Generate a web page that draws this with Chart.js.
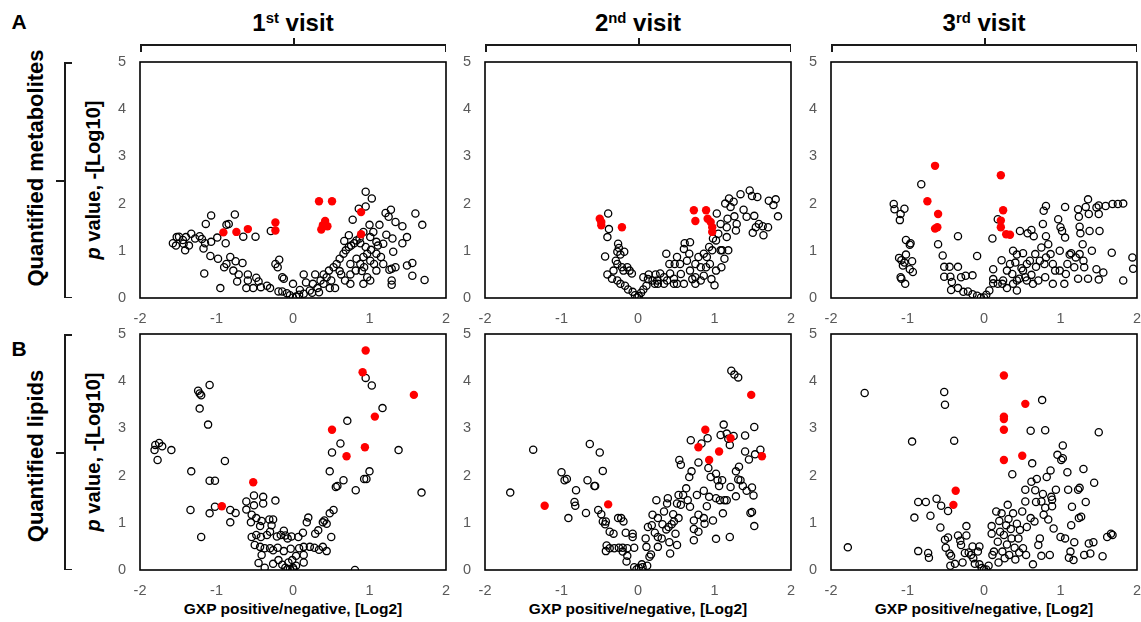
<!DOCTYPE html>
<html>
<head>
<meta charset="utf-8">
<script src="https://cdn.jsdelivr.net/npm/chart.js@4"></script>
<style>
  html, body { margin: 0; padding: 0; background: #fff; overflow: hidden; }
  #fig { position: relative; width: 1141px; height: 622px; font-family: Arial, "Liberation Sans", sans-serif; color: #000; }
  #fig canvas { position: absolute; }
  .txt { position: absolute; font-weight: bold; white-space: nowrap; text-align: center; }
  .rot { position: absolute; font-weight: bold; white-space: nowrap; text-align: center; transform: rotate(-90deg); }
  .ln { position: absolute; background: #1a1a1a; }
  sup { font-size: 62%; vertical-align: 0; position: relative; top: -0.55em; }
</style>
</head>
<body>
<div id="fig"></div>
<script>
// axis ticks
const xTickValues = [-2, -1, 0, 1, 2];
const yTickValues = [0, 1, 2, 3, 4, 5];

const visitTitles = ['1<sup>st</sup> visit', '2<sup>nd</sup> visit', '3<sup>rd</sup> visit'];
const rowTitles = ['Quantified metabolites', 'Quantified lipids'];
const rowLetters = ['A', 'B'];

// metabolites, 1st visit
const metRed1 = [[0.34,2.05],[0.51,2.05],[0.89,1.82],[0.89,1.35],[0.42,1.63],[0.39,1.54],[0.45,1.52],[0.37,1.45],
  [-0.23,1.6],[-0.23,1.43],[-0.59,1.46],[-0.74,1.4],[-0.91,1.39]];
const metBlack1 = [[-1.57,1.16],[-1.52,1.29],[-1.49,1.3],[-1.44,1.23],[-1.4,1.29],[-1.33,1.36],[-1.43,1.15],[-1.53,1.11],
  [-1.41,1.01],[-1.36,1.11],[-1.28,1.26],[-1.22,1.31],[-1.19,1.25],[-1.17,1.05],[-1.15,1.16],[-1.07,1.19],[-1.14,1.57],
  [-1.07,1.75],[-0.99,1.28],[-0.87,1.55],[-0.84,1.57],[-0.76,1.77],[-0.88,1.16],[-0.65,1.3],[-0.49,1.3],[-0.29,1.42],
  [-1.08,0.89],[-1.16,0.52],[-0.95,0.21],[-0.98,0.83],[-0.87,0.72],[-0.9,0.65],[-0.82,0.87],[-0.75,0.78],[-0.66,0.74],
  [-0.78,0.58],[-0.71,0.5],[-0.59,0.5],[-0.73,0.35],[-0.59,0.37],[-0.48,0.43],[-0.45,0.35],[-0.61,0.21],[-0.52,0.21],
  [-0.42,0.23],[-0.34,0.26],[-0.3,0.21],[-0.23,0.72],[-0.18,0.81],[-0.2,0.65],[-0.14,0.44],[-0.12,0.41],[-0.19,0.14],
  [-0.14,0.14],[-0.08,0.1],[-0.04,0.06],[0,0.01],[0.04,0.03],[0.08,0.07],[0.14,0.09],[0,0.3],[0.14,0.5],[0.17,0.33],
  [0.22,0.16],[0.26,0.3],[0.29,0.5],[0.32,0.21],[0.36,0.37],[0.4,0.5],[0.44,0.44],[0.47,0.58],[0.5,0.37],[0.53,0.65],
  [0.57,0.72],[0.61,0.57],[0.55,0.21],[0.61,0.83],[0.66,0.94],[0.69,1.01],[0.73,1.08],[0.76,1.11],[0.8,1.16],[0.83,1.22],
  [0.87,1.26],[0.88,1.16],[0.68,0.37],[0.75,0.5],[0.82,0.58],[0.88,0.72],[0.92,0.87],[0.97,0.94],[1.01,0.79],[1.09,0.94],
  [1.15,0.87],[1.09,1.19],[1.11,1.11],[1.18,1.15],[1.3,1.26],[1.31,0.98],[1.29,0.62],[0.9,0.57],[0.97,0.44],[1.01,0.37],
  [1.09,0.58],[1.18,0.72],[1.26,0.6],[1.29,0.37],[1.29,0.28],[1.34,0.65],[1.49,0.69],[1.56,0.74],[1.56,0.47],[1.72,0.38],
  [1.43,1.16],[1.49,1.29],[1.43,1.52],[1.34,1.61],[1.25,1.72],[1.21,1.8],[1.28,1.87],[1.13,1.55],[1.0,1.55],[0.95,1.94],
  [1.03,2.11],[0.95,2.25],[0.86,1.89],[0.78,1.66],[0.73,1.33],[0.67,1.21],[1.6,1.79],[1.69,1.55],[1.05,1.4],[1.22,1.34],
  [0.92,1.4],[1.01,1.29],[0.95,1.08],[1.02,1.02],[1.06,0.72],[0.93,0.65],[0.83,0.83],[0.75,0.72],[0.63,0.5],[0.92,0.3],
  [0.75,0.3],[0.48,0.21],[0.4,0.3],[0.34,0.12],[0.25,0.11],[0.09,0.17]];

// metabolites, 2nd visit
const metRed2 = [[-0.5,1.68],[-0.48,1.61],[-0.48,1.54],[-0.21,1.5],[0.73,1.86],[0.75,1.63],[0.89,1.86],[0.91,1.68],
  [0.95,1.61],[0.97,1.5],[0.97,1.4]];
const metBlack2 = [[-0.39,1.79],[-0.38,1.46],[-0.4,1.29],[-0.43,0.88],[-0.26,1.15],[-0.25,1.06],[-0.27,0.98],[-0.23,0.92],
  [-0.18,0.98],[-0.29,0.79],[-0.27,0.72],[-0.21,0.65],[-0.19,0.58],[-0.14,0.65],[-0.11,0.58],[-0.08,0.52],[-0.32,0.58],
  [-0.4,0.5],[-0.34,0.41],[-0.27,0.37],[-0.23,0.3],[-0.17,0.26],[-0.13,0.18],[-0.07,0.13],[-0.04,0.06],[-0.01,0.01],
  [0.01,0.04],[0.04,0.11],[0.07,0.18],[0.11,0.26],[0.13,0.4],[0.14,0.5],[0.19,0.37],[0.23,0.5],[0.26,0.3],[0.29,0.52],
  [0.34,0.44],[0.37,0.94],[0.38,0.37],[0.42,0.52],[0.47,0.41],[0.48,0.72],[0.51,0.3],[0.55,0.72],[0.56,0.51],[0.6,0.3],
  [0.61,1.16],[0.68,1.18],[0.6,1.04],[0.67,0.94],[0.64,0.79],[0.68,0.58],[0.71,0.4],[0.75,0.72],[0.79,0.87],[0.82,0.65],
  [0.86,0.94],[0.86,0.47],[0.9,0.87],[0.93,1.08],[0.94,0.72],[0.96,0.4],[1.0,0.27],[0.97,1.01],[1.02,1.22],[1.05,1.36],
  [1.03,1.79],[1.08,1.57],[1.1,1.01],[1.09,0.65],[1.18,1.01],[1.16,1.29],[1.16,1.5],[1.17,1.68],[1.21,1.93],[1.19,2.11],
  [1.25,2.04],[1.29,1.57],[1.34,2.2],[1.38,1.87],[1.42,1.72],[1.46,2.28],[1.49,2.16],[1.56,2.14],[1.52,1.74],[1.54,1.5],
  [1.5,1.38],[1.58,1.57],[1.63,1.52],[1.64,1.33],[1.7,1.5],[1.71,2.06],[1.77,1.97],[1.8,2.09],[1.83,1.73],[1.26,1.73],
  [1.28,1.43],[1.14,2.0],[0.98,1.26],[0.51,0.87],[0.41,0.72],[0.75,0.44],[0.25,0.37],[0.07,0.44],[0.22,0.3],[0.34,0.3],
  [0.47,0.3],[0.75,0.3],[0.82,0.37],[1.08,1.01],[1.13,0.83],[0.89,0.65],[1.02,0.58]];

// metabolites, 3rd visit
const metRed3 = [[-0.64,2.8],[0.22,2.6],[-0.74,2.05],[-0.6,1.78],[-0.64,1.47],[-0.61,1.5],[0.25,1.86],[0.22,1.64],
  [0.22,1.5],[0.29,1.35],[0.34,1.34]];
const metBlack3 = [[-1.18,1.99],[-1.17,1.88],[-1.09,1.78],[-1.1,1.65],[-1.04,1.89],[-1.02,1.23],[-0.96,1.16],[-0.97,1.13],
  [-1.11,0.85],[-1.08,0.8],[-1.02,0.92],[-1.04,0.75],[-0.94,0.78],[-1.06,0.69],[-0.97,0.61],[-0.93,0.55],[-1.09,0.44],
  [-1.08,0.41],[-1.03,0.3],[-0.82,2.41],[-0.6,1.14],[-0.54,0.9],[-0.52,0.66],[-0.45,0.66],[-0.34,0.66],[-0.34,1.31],
  [-0.52,0.45],[-0.44,0.45],[-0.3,0.44],[-0.24,0.47],[-0.15,0.48],[-0.42,0.34],[-0.43,0.17],[-0.34,0.21],[-0.27,0.13],
  [-0.21,0.14],[-0.15,0.08],[-0.09,0.05],[-0.04,0.01],[0,0.01],[0.03,0.07],[0.07,0.16],[0.12,0.31],[0.18,0.3],[0.12,0.61],
  [0.11,1.26],[0.18,1.67],[0.23,0.8],[0.25,0.37],[0.3,0.58],[0.34,0.72],[0.37,0.51],[0.38,0.3],[0.41,0.75],[0.43,0.92],
  [0.46,0.41],[0.47,1.42],[0.49,0.63],[0.51,0.95],[0.54,0.44],[0.56,0.72],[0.57,1.37],[0.6,0.79],[0.62,1.44],[0.62,0.49],
  [0.65,1.31],[0.67,0.93],[0.68,0.66],[0.71,0.37],[0.75,1.07],[0.77,1.57],[0.78,1.85],[0.81,1.95],[0.79,0.72],[0.81,1.31],
  [0.84,1.14],[0.87,0.93],[0.9,0.3],[0.93,0.58],[0.97,1.67],[1.0,1.5],[1.02,1.42],[0.99,1.0],[1.06,1.93],[1.06,1.28],
  [1.09,0.72],[1.12,0.92],[1.14,0.95],[1.18,0.65],[1.2,0.86],[1.23,1.88],[1.24,1.72],[1.25,1.51],[1.26,1.37],[1.29,1.14],
  [1.25,0.93],[1.3,0.79],[1.31,0.65],[1.33,1.93],[1.36,2.09],[1.37,1.78],[1.38,1.42],[1.41,1.0],[1.47,1.92],[1.5,1.78],
  [1.51,1.42],[1.5,1.96],[1.59,1.95],[1.68,1.99],[1.75,1.99],[1.82,2.0],[1.67,0.96],[1.47,0.61],[1.56,0.54],[1.5,0.39],
  [1.36,0.41],[1.23,0.41],[1.07,0.51],[1.82,0.37],[1.94,0.86],[1.95,0.62],[-0.09,0.89],[0.12,0.4],[0.24,0.3],[0.43,0.37],
  [0.56,0.37],[0.64,0.3],[0.8,0.44],[0.43,0.16],[0.3,0.21],[0.9,0.72],[0.99,0.58],[0.81,0.86],[0.73,0.79],[0.51,0.58],
  [0.38,1.0],[1.05,0.3]];

// lipids, 1st visit
const lipRed1 = [[0.95,4.65],[0.91,4.19],[1.58,3.71],[1.07,3.25],[0.51,2.97],[0.94,2.6],[0.7,2.41],[-0.52,1.86],[-0.93,1.35]];
const lipBlack1 = [[-1.24,3.8],[-1.22,3.74],[-1.2,3.7],[-1.09,3.92],[-1.22,3.42],[-1.11,3.08],[-1.8,2.65],[-1.75,2.69],
  [-1.81,2.54],[-1.71,2.62],[-1.59,2.54],[-1.77,2.33],[-0.89,2.31],[-1.33,2.09],[-1.09,1.89],[-1.02,1.89],[-1.34,1.27],
  [-1.09,1.2],[-1.02,1.34],[-0.82,1.27],[-0.75,1.21],[-0.82,1.01],[-1.2,0.7],[-0.61,1.45],[-0.51,1.58],[-0.39,1.55],
  [-0.39,1.41],[-0.23,1.47],[-0.61,1.28],[-0.51,1.37],[-0.54,1.17],[-0.55,1.01],[-0.48,1.1],[-0.41,1.04],[-0.31,1.07],
  [-0.26,1.07],[-0.28,0.95],[-0.43,0.93],[-0.54,0.7],[-0.48,0.74],[-0.42,0.7],[-0.34,0.74],[-0.3,0.81],[-0.21,0.71],
  [-0.16,0.74],[-0.12,0.83],[-0.1,0.73],[-0.07,0.67],[-0.02,0.71],[-0.5,0.53],[-0.43,0.49],[-0.37,0.46],[-0.3,0.46],
  [-0.26,0.42],[-0.2,0.47],[-0.12,0.4],[-0.03,0.45],[-0.41,0.32],[-0.45,0.15],[-0.37,0.05],[-0.26,0.13],[-0.19,0.21],
  [-0.14,0.11],[-0.1,0.05],[-0.07,0.02],[-0.04,0.02],[0,0.05],[0.01,0.01],[0.04,0.09],[-0.06,0.16],[-0.01,0.21],[0.04,0.3],
  [0.14,0.32],[0.14,0.16],[0.08,0.46],[0.14,0.49],[0.22,0.49],[0.28,0.47],[0.34,0.43],[0.39,0.49],[0.44,0.4],[0.07,0.7],
  [0.13,0.79],[0.2,1.11],[0.18,1.01],[0.29,0.77],[0.33,0.84],[0.39,1.01],[0.41,1.05],[0.44,0.98],[0.48,1.2],[0.53,1.27],
  [0.5,0.7],[0.48,2.09],[0.51,2.49],[0.56,1.76],[0.58,1.78],[0.66,1.9],[0.62,2.68],[0.71,3.16],[0.82,1.69],[0.93,1.93],
  [0.96,1.93],[1.0,2.09],[0.95,4.07],[1.03,3.91],[1.17,3.43],[1.38,2.54],[1.68,1.64],[0.81,0.0]];

// lipids, 2nd visit
const lipRed2 = [[-1.22,1.36],[-0.39,1.39],[0.88,2.97],[0.79,2.6],[0.93,2.33],[1.06,2.51],[1.21,2.79],[1.48,3.71],[1.62,2.41]];
const lipBlack2 = [[-1.67,1.64],[-1.37,2.55],[-1.0,2.07],[-0.96,1.9],[-0.93,1.93],[-0.81,1.69],[-0.83,1.44],[-0.82,1.36],
  [-0.91,1.1],[-0.68,1.21],[-0.66,1.9],[-0.63,2.67],[-0.57,1.78],[-0.56,1.78],[-0.5,2.49],[-0.46,2.1],[-0.52,1.27],
  [-0.48,1.18],[-0.46,1.03],[-0.43,0.97],[-0.42,1.03],[-0.26,1.1],[-0.22,1.1],[-0.19,1.03],[-0.37,0.81],[-0.32,0.77],
  [-0.16,0.79],[-0.07,0.77],[-0.07,0.7],[-0.41,0.52],[-0.37,0.46],[-0.42,0.4],[-0.31,0.46],[-0.25,0.47],[-0.2,0.47],
  [-0.14,0.46],[-0.05,0.47],[-0.2,0.39],[-0.14,0.3],[-0.15,0.18],[-0.05,0.06],[-0.02,0.01],[0.01,0.05],[0.05,0.12],
  [0.06,0.06],[0.12,0.09],[0.15,0.28],[0.17,0.33],[0.1,0.67],[0.11,0.49],[0.13,0.91],[0.18,0.95],[0.19,1.17],[0.24,1.48],
  [0.22,0.79],[0.26,1.1],[0.26,0.7],[0.26,0.49],[0.31,0.67],[0.32,0.97],[0.34,1.24],[0.37,0.86],[0.38,1.41],[0.39,1.52],
  [0.4,0.91],[0.41,0.59],[0.42,0.35],[0.44,0.97],[0.46,1.18],[0.47,1.03],[0.49,0.77],[0.51,1.41],[0.51,0.53],[0.53,1.1],
  [0.53,1.59],[0.56,1.38],[0.54,2.33],[0.56,2.23],[0.59,1.59],[0.63,1.73],[0.65,1.48],[0.67,1.97],[0.68,1.34],[0.69,2.75],
  [0.7,2.09],[0.73,0.63],[0.73,1.05],[0.73,0.87],[0.77,1.59],[0.79,1.17],[0.79,0.81],[0.79,2.28],[0.83,2.68],[0.86,1.68],
  [0.86,1.1],[0.87,0.98],[0.9,1.35],[0.91,2.79],[0.92,2.16],[0.93,1.55],[0.95,1.97],[0.98,1.05],[1.02,2.04],[1.02,0.66],
  [1.02,1.52],[1.04,1.9],[1.06,1.78],[1.07,1.48],[1.08,2.86],[1.1,1.9],[1.11,1.2],[1.12,3.08],[1.13,1.48],[1.16,2.89],
  [1.16,1.48],[1.18,2.78],[1.2,2.65],[1.21,1.76],[1.2,0.7],[1.22,4.22],[1.26,4.14],[1.31,4.08],[1.25,2.84],[1.28,2.09],
  [1.28,1.56],[1.31,1.92],[1.32,2.19],[1.34,1.9],[1.37,1.78],[1.4,2.85],[1.4,2.51],[1.42,1.68],[1.45,2.34],[1.47,1.21],
  [1.49,1.23],[1.49,1.75],[1.51,1.58],[1.52,3.03],[1.52,0.93],[1.53,2.45],[1.6,2.55]];

// lipids, 3rd visit
const lipRed3 = [[0.26,4.12],[0.54,3.52],[0.26,3.25],[0.26,3.2],[0.26,2.97],[0.5,2.42],[0.26,2.33],[-0.37,1.68],[-0.4,1.38]];
const lipBlack3 = [[-1.78,0.48],[-1.56,3.75],[-0.94,2.72],[-0.86,1.44],[-0.91,1.11],[-0.76,1.44],[-0.7,1.15],[-0.86,0.4],
  [-0.73,0.36],[-0.72,0.26],[-0.62,1.51],[-0.56,1.36],[-0.57,0.9],[-0.52,3.77],[-0.51,3.5],[-0.39,2.74],[-0.47,1.25],
  [-0.51,0.64],[-0.47,0.69],[-0.5,0.47],[-0.45,0.35],[-0.43,0.3],[-0.44,0.09],[-0.38,0.13],[-0.34,0.73],[-0.31,0.62],
  [-0.3,0.53],[-0.28,0.16],[-0.23,0.93],[-0.23,0.73],[-0.25,0.36],[-0.2,0.37],[-0.17,0.32],[-0.15,0.5],[-0.14,0.25],
  [-0.12,0.13],[-0.08,0.39],[-0.06,0.5],[-0.06,0.12],[-0.03,0.04],[0,0.01],[0.03,0.01],[0.06,0.09],[0.1,0.93],[0.1,0.77],
  [0.11,0.32],[0.13,0.39],[0.16,1.24],[0.18,0.6],[0.19,0.16],[0.2,1.04],[0.21,0.81],[0.23,1.2],[0.24,0.39],[0.26,0.74],
  [0.27,0.25],[0.29,0.95],[0.3,0.54],[0.31,1.38],[0.32,1.08],[0.33,0.32],[0.35,0.87],[0.36,0.67],[0.37,2.03],[0.38,1.2],
  [0.4,0.47],[0.41,0.22],[0.43,0.98],[0.45,0.67],[0.46,0.37],[0.47,0.85],[0.5,1.24],[0.51,0.46],[0.54,1.45],[0.54,1.7],
  [0.55,0.32],[0.56,0.91],[0.61,2.95],[0.61,1.1],[0.62,1.87],[0.63,2.26],[0.64,0.12],[0.66,1.03],[0.67,1.69],[0.68,1.44],
  [0.69,1.93],[0.71,0.53],[0.73,0.67],[0.75,0.3],[0.75,1.45],[0.76,3.6],[0.77,1.61],[0.78,1.17],[0.8,2.96],[0.8,1.32],
  [0.82,1.97],[0.84,1.07],[0.86,0.32],[0.87,2.11],[0.88,1.55],[0.89,1.49],[0.89,1.35],[0.91,0.88],[0.94,1.7],[0.96,2.44],
  [1.0,0.7],[1.01,2.33],[1.03,2.64],[1.03,2.37],[1.06,0.67],[1.09,2.07],[1.1,1.7],[1.11,0.26],[1.13,0.39],[1.14,0.95],
  [1.15,1.34],[1.17,0.21],[1.18,0.59],[1.23,1.7],[1.24,1.1],[1.25,1.74],[1.27,1.13],[1.3,2.14],[1.31,0.32],[1.33,1.44],
  [1.37,0.56],[1.39,0.35],[1.43,0.59],[1.44,1.85],[1.5,2.92],[1.55,0.29],[1.61,0.7],[1.66,0.77],[1.68,0.74]];

const panels = [
  { black: metBlack1, red: metRed1, col: 0, row: 0 },
  { black: metBlack2, red: metRed2, col: 1, row: 0 },
  { black: metBlack3, red: metRed3, col: 2, row: 0 },
  { black: lipBlack1, red: lipRed1, col: 0, row: 1 },
  { black: lipBlack2, red: lipRed2, col: 1, row: 1 },
  { black: lipBlack3, red: lipRed3, col: 2, row: 1 },
];

// plot frame positions
const colLeft = [140, 485, 831];
const plotW = 306;
const rowTop = [62, 334];
const plotH = 236;
const yAxisW = 30, xAxisH = 36, padTop = 12, padRight = 12;

const fig = document.getElementById('fig');

function addText(html, cls, x, y, w, h, size, extra) {
  const d = document.createElement('div');
  d.className = cls;
  d.innerHTML = html;
  d.style.left = (x - w / 2) + 'px';
  d.style.top = (y - h / 2) + 'px';
  d.style.width = w + 'px';
  d.style.height = h + 'px';
  d.style.lineHeight = h + 'px';
  d.style.fontSize = size + 'px';
  if (extra) Object.assign(d.style, extra);
  fig.appendChild(d);
}

function addLine(x, y, w, h) {
  const d = document.createElement('div');
  d.className = 'ln';
  d.style.left = x + 'px';
  d.style.top = y + 'px';
  d.style.width = w + 'px';
  d.style.height = h + 'px';
  fig.appendChild(d);
}

// column headers with brackets
visitTitles.forEach((t, i) => {
  const cx = colLeft[i] + plotW / 2;
  addText(t, 'txt', cx, 23, 200, 30, 24);
  addLine(colLeft[i], 44, plotW, 1.5);
  addLine(colLeft[i], 44, 1.5, 8);
  addLine(colLeft[i] + plotW - 1.5, 44, 1.5, 8);
  addLine(cx, 38, 1.5, 7);
});

// row titles with brackets
rowTitles.forEach((t, r) => {
  const top = rowTop[r], cy = top + plotH / 2;
  addText(t, 'rot', 36, cy + (r === 0 ? -12 : 4), 280, 26, 22);
  addText('<i>p</i> value, -[Log10]', 'rot', 93, cy, 220, 24, 20);
  addLine(64, top, 1.5, plotH);
  addLine(64, top, 8, 1.5);
  addLine(64, top + plotH - 1.5, 8, 1.5);
  addLine(56, cy, 9, 1.5);
  addText(rowLetters[r], 'txt', 19, r === 0 ? 22 : 349, 24, 24, 21);
});

colLeft.forEach(l => {
  addText('GXP positive/negative, [Log2]', 'txt', l + plotW / 2, 609, 300, 20, 15.5);
});

const framePlugin = {
  id: 'frame',
  afterDraw(chart) {
    const { ctx, chartArea: a } = chart;
    ctx.save();
    ctx.strokeStyle = '#000';
    ctx.lineWidth = 1.6;
    ctx.strokeRect(a.left, a.top, a.right - a.left, a.bottom - a.top);
    ctx.restore();
  }
};

const toXY = arr => arr.map(([x, y]) => ({ x, y }));

panels.forEach(p => {
  const cv = document.createElement('canvas');
  const w = yAxisW + plotW + padRight, h = padTop + plotH + xAxisH;
  cv.width = w;
  cv.height = h;
  cv.style.left = (colLeft[p.col] - yAxisW) + 'px';
  cv.style.top = (rowTop[p.row] - padTop) + 'px';
  cv.style.width = w + 'px';
  cv.style.height = h + 'px';
  fig.appendChild(cv);

  new Chart(cv, {
    type: 'scatter',
    data: {
      datasets: [
        {
          data: toXY(p.red),
          backgroundColor: '#ff0000',
          borderColor: '#ff0000',
          borderWidth: 0,
          pointRadius: 4.2,
        },
        {
          data: toXY(p.black),
          backgroundColor: 'rgba(0,0,0,0)',
          borderColor: '#000',
          borderWidth: 1.3,
          pointRadius: 3.6,
        },
      ],
    },
    options: {
      responsive: false,
      animation: false,
      layout: { padding: { top: padTop, right: padRight, left: 0, bottom: 0 } },
      plugins: {
        legend: { display: false },
        tooltip: { enabled: false },
      },
      scales: {
        x: {
          type: 'linear',
          min: -2,
          max: 2,
          afterBuildTicks: s => { s.ticks = xTickValues.map(v => ({ value: v })); },
          afterFit: s => { s.height = xAxisH; s.paddingLeft = 0; s.paddingRight = 0; },
          grid: { display: false, drawTicks: false },
          border: { display: false },
          ticks: {
            color: '#595959',
            font: { family: 'Arial', size: 14.5 },
            padding: 12,
            maxRotation: 0,
            autoSkip: false,
          },
        },
        y: {
          type: 'linear',
          min: 0,
          max: 5,
          afterBuildTicks: s => { s.ticks = yTickValues.map(v => ({ value: v })); },
          afterFit: s => { s.width = yAxisW; s.paddingTop = 0; s.paddingBottom = 0; },
          grid: { display: false, drawTicks: false },
          border: { display: false },
          ticks: {
            color: '#595959',
            font: { family: 'Arial', size: 14.5 },
            padding: 14,
            autoSkip: false,
          },
        },
      },
    },
    plugins: [framePlugin],
  });
});
</script>
</body>
</html>
